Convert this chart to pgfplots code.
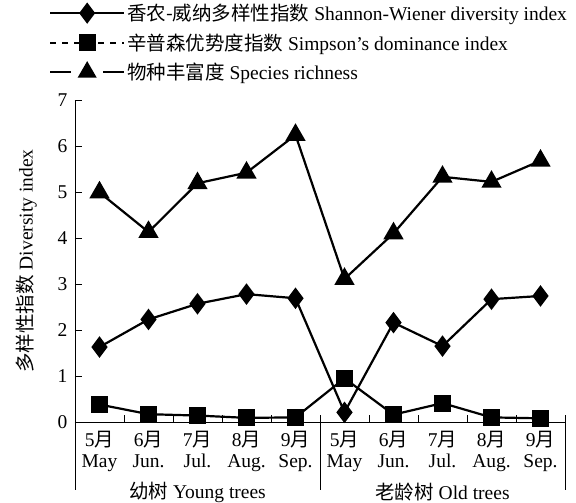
\documentclass[border=0pt]{standalone}
\usepackage{pgfplots}
\pgfplotsset{compat=1.18}
\usepackage{fontspec}
\setmainfont{Liberation Serif}
\newfontfamily\cjk{Noto Sans CJK SC}
\newcommand\zh[1]{{\cjk #1}}
\begin{document}
\begin{tikzpicture}[font=\fontsize{19.5bp}{21bp}\selectfont]
\useasboundingbox (-75bp,-81bp) rectangle (501bp,422bp);
\begin{axis}[
 scale only axis, width=490bp, height=322bp,
 xmin=0, xmax=10, ymin=0, ymax=7,
 axis x line=bottom, axis y line=left,
 axis line style={-, line width=1pt},
 tick align=inside, major tick length=7bp, minor tick length=7bp,
 every tick/.style={black, line width=0.8pt},
 ytick={0,...,7},
 xtick={0.5,1.5,...,9.5},
 xticklabels={{5\zh{月}\\May},{6\zh{月}\\Jun.},{7\zh{月}\\Jul.},{8\zh{月}\\Aug.},{9\zh{月}\\Sep.},{5\zh{月}\\May},{6\zh{月}\\Jun.},{7\zh{月}\\Jul.},{8\zh{月}\\Aug.},{9\zh{月}\\Sep.}},
 minor xtick={1,...,9},
 major x tick style={draw=none},
 xticklabel style={align=center, yshift=-6bp, font=\fontsize{19.5bp}{21bp}\selectfont},
 yticklabel style={xshift=-4bp},
 ylabel={\zh{多样性指数} Diversity index},
 ylabel style={yshift=14bp},
 clip=false,
 /pgf/number format/assume math mode=true,
 legend style={draw=none, fill=none, at={(rel axis cs:0,1)}, anchor=north west, xshift=-29bp, yshift=100bp, row sep=7.5bp, cells={anchor=west}},
 legend image code/.code={\draw[#1] (0bp,0bp) -- (74bp,0bp); \draw[#1, solid] plot coordinates {(37bp,0bp)};},
]
\addlegendimage{line width=2bp, mark=diamond*, mark size=9bp}
\addlegendentry{\zh{香农-威纳多样性指数} Shannon-Wiener diversity index}
\addlegendimage{line width=2bp, mark=square*, mark size=7.5bp, dash pattern=on 6bp off 6bp}
\addlegendentry{\zh{辛普森优势度指数} Simpson’s dominance index}
\addlegendimage{line width=2bp, mark=triangle*, mark size=9bp, dash pattern=on 21bp off 32bp}
\addlegendentry{\zh{物种丰富度} Species richness}

\addplot[line width=2.2bp, mark=diamond*, mark size=9bp, forget plot] coordinates {
(0.5,1.63) (1.5,2.23) (2.5,2.57) (3.5,2.78) (4.5,2.69) (5.5,0.21) (6.5,2.16) (7.5,1.65) (8.5,2.67) (9.5,2.74)};
\addplot[line width=2.2bp, mark=square*, mark size=7.5bp, forget plot] coordinates {
(0.5,0.38) (1.5,0.17) (2.5,0.14) (3.5,0.09) (4.5,0.10) (5.5,0.95) (6.5,0.16) (7.5,0.41) (8.5,0.10) (9.5,0.08)};
\addplot[line width=2.2bp, mark=triangle*, mark size=9.5bp, forget plot] coordinates {
(0.5,4.99) (1.5,4.13) (2.5,5.19) (3.5,5.42) (4.5,6.24) (5.5,3.11) (6.5,4.10) (7.5,5.33) (8.5,5.22) (9.5,5.68)};

\draw[line width=0.8pt] (axis cs:0,0) -- ++(0,-68bp);
\draw[line width=0.8pt] ([yshift=7bp]axis cs:5,0) -- ++(0,-75bp);
\draw[line width=0.8pt] ([yshift=7bp]axis cs:10,0) -- ++(0,-75bp);
\node at ([yshift=-70bp]axis cs:2.5,0) {\zh{幼树} Young trees};
\node at ([yshift=-70bp]axis cs:7.5,0) {\zh{老龄树} Old trees};
\end{axis}
\end{tikzpicture}
\end{document}
